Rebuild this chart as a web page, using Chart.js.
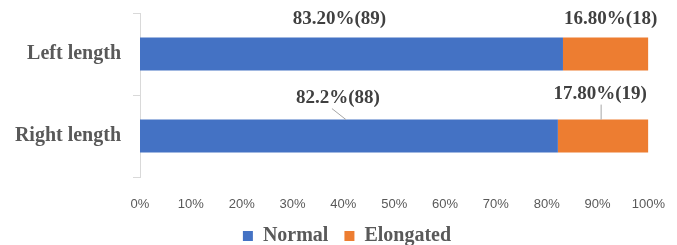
<!DOCTYPE html>
<html>
<head>
<meta charset="utf-8">
<script src="https://cdn.jsdelivr.net/npm/chart.js@4/dist/chart.umd.min.js"></script>
<style>
  html, body { margin: 0; padding: 0; background: #fff; }
  #wrap { width: 677px; height: 245px; }
</style>
</head>
<body>
<div id="wrap"><canvas id="chart"></canvas></div>
<script>
// данные с картинки
const categories = ['Left length', 'Right length'];
const normalPct = [83.2, 82.2];
const elongatedPct = [16.8, 17.8];
const normalPctText = ['83.20%', '82.2%'];
const elongatedPctText = ['16.80%', '17.80%'];
const normalCount = [89, 88];
const elongatedCount = [18, 19];
const xTicks = [0, 10, 20, 30, 40, 50, 60, 70, 80, 90, 100];

// сдвиги подписей относительно середины сегмента и верха столбца [dataset][index]
const labelOffsets = [
    [[-12, -19], [-11, -22]],
    [[5, -19], [-3, -26]]
];
// выноски: [сдвиг начала от центра подписи, сдвиг конца от середины сегмента] или null
const leaders = [
    [null, [-6, -3]],
    [null, [1, -2]]
];

function makeLabels(pctText, counts) {
    const out = [];
    for (let i = 0; i < pctText.length; i++) {
        out.push(pctText[i] + '(' + counts[i] + ')');
    }
    return out;
}

const barTexts = [
    makeLabels(normalPctText, normalCount),
    makeLabels(elongatedPctText, elongatedCount)
];

const barLabels = {
    id: 'barLabels',
    afterLayout(chart) {
        // легенда на картинке чуть правее центра
        chart.legend.left += 22;
        chart.legend.right += 22;
    },
    afterDatasetsDraw(chart) {
        const ctx = chart.ctx;
        ctx.save();
        ctx.font = 'bold 19px "Liberation Serif"';
        ctx.fillStyle = '#404040';
        ctx.textAlign = 'center';
        ctx.textBaseline = 'middle';
        ctx.strokeStyle = '#a6a6a6';
        ctx.lineWidth = 1;
        chart.data.datasets.forEach((ds, i) => {
            const meta = chart.getDatasetMeta(i);
            meta.data.forEach((bar, j) => {
                const cx = (bar.base + bar.x) / 2;
                const top = bar.y - bar.height / 2;
                const off = labelOffsets[i][j];
                const lx = cx + off[0];
                const ly = top + off[1];
                ctx.fillText(barTexts[i][j], lx, ly);
                const ld = leaders[i][j];
                if (ld) {
                    ctx.beginPath();
                    ctx.moveTo(lx + ld[0], ly + 11);
                    ctx.lineTo(cx + ld[1], top);
                    ctx.stroke();
                }
            });
        });
        ctx.restore();
    }
};

new Chart(document.getElementById('chart'), {
    type: 'bar',
    data: {
        labels: categories,
        datasets: [
            {
                label: 'Normal',
                data: normalPct,
                backgroundColor: '#4472C4',
                barPercentage: 0.4,
                categoryPercentage: 1
            },
            {
                label: 'Elongated',
                data: elongatedPct,
                backgroundColor: '#ED7D31',
                barPercentage: 0.4,
                categoryPercentage: 1
            }
        ]
    },
    options: {
        indexAxis: 'y',
        responsive: true,
        maintainAspectRatio: false,
        animation: false,
        layout: { padding: { top: 13, right: 27, bottom: -11, left: 0 } },
        scales: {
            x: {
                stacked: true,
                min: 0,
                max: 100,
                afterBuildTicks(scale) {
                    scale.ticks = xTicks.map(v => ({ value: v }));
                },
                afterFit(scale) { scale.height = 33; },
                grid: { display: false },
                border: { display: false },
                ticks: {
                    padding: 12,
                    color: '#595959',
                    font: { family: '"Liberation Sans"', size: 13 },
                    callback: v => v + '%'
                }
            },
            y: {
                stacked: true,
                afterFit(scale) {
                    scale.width = 140;
                    scale.paddingTop = 0;
                    scale.paddingBottom = 0;
                },
                grid: {
                    drawOnChartArea: false,
                    color: '#d9d9d9',
                    tickLength: 7
                },
                border: { color: '#d9d9d9' },
                ticks: {
                    padding: 12,
                    color: '#595959',
                    font: { family: '"Liberation Serif"', size: 20, weight: 'bold' }
                }
            }
        },
        plugins: {
            legend: {
                position: 'bottom',
                labels: {
                    boxWidth: 10,
                    boxHeight: 10,
                    padding: 16,
                    color: '#595959',
                    font: { family: '"Liberation Serif"', size: 20, weight: 'bold' }
                }
            },
            tooltip: { enabled: false }
        }
    },
    plugins: [barLabels]
});
</script>
</body>
</html>
